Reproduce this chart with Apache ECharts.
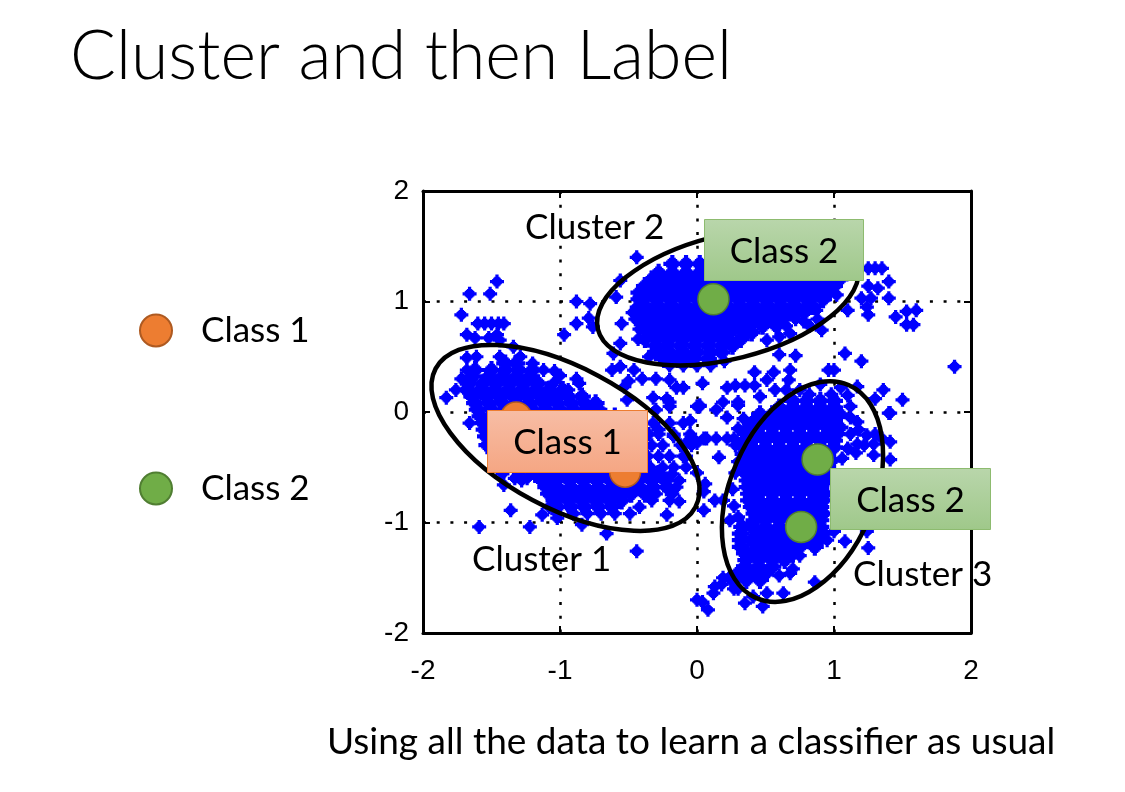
<!DOCTYPE html>
<html><head><meta charset="utf-8">
<style>html,body{margin:0;padding:0;background:#fff}#c{width:1125px;height:792px}</style>
<script src="https://cdn.jsdelivr.net/npm/echarts@6/dist/echarts.min.js"></script>
</head><body><div id="c"></div>
<script>
const ticks = [-2, -1, 0, 1, 2];
const class1Points = [[-1.32, -0.05], [-0.525, -0.54]];
const class2Points = [[0.12, 1.02], [0.88, -0.43], [0.76, -1.04]];
// each ellipse: centre, end of long axis, end of short axis (data units)
const clusterEllipses = [
  [-0.96, -0.235, -0.012, -0.862, -1.204, -0.795],
  [0.226, 1.04, 1.175, 1.334, 0.336, 0.497],
  [0.77, -0.72, 1.106, 0.244, 1.252, -0.978]
];
// rows: first number is y, the rest are x values read from the dense blobs
const denseCluster1 = [
 [.44,-1.40,-1.32],
 [.38,-1.62,-1.50,-1.40,-1.30,-1.20],
 [.32,-1.64,-1.52,-1.42,-1.32,-1.22],
 [.26,-1.66,-1.56,-1.46,-1.36,-1.26,-1.16],
 [.20,-1.68,-1.58,-1.48,-1.38,-1.28,-1.18,-1.08,-.98],
 [.14,-1.64,-1.54,-1.44,-1.34,-1.24,-1.14,-1.04,-.94,-.84],
 [.08,-1.62,-1.52,-1.42,-1.32,-1.22,-1.12,-1.02,-.92,-.82,-.74],
 [.02,-1.6,-1.5,-1.4,-1.3,-1.2,-1.1,-1,-.9,-.8,-.72],
 [-.04,-1.58,-1.5,-.68,-.6],
 [-.1,-1.56],
 [-.16,-1.55],
 [-.22,-1.54],
 [-.3,-1.53],
 [-.56,-1.18,-1.08,-.98,-.88,-.78,-.68,-.58,-.48,-.38,-.28],
 [-.62,-1.13,-1.03,-.93,-.83,-.73,-.63,-.53,-.43,-.33,-.23],
 [-.68,-1.1,-1.02,-.92,-.82,-.72,-.62,-.52,-.42,-.32,-.22],
 [-.74,-1.08,-.98,-.88,-.78,-.68,-.58,-.48,-.38],
 [-.80,-1.04,-.94,-.84,-.74,-.64,-.55],
 [-.86,-1.02,-.92,-.82,-.72,-.62]
];
const denseCluster2 = [
 [1.34,-.18,-.08,.02],
 [1.26,-.28,-.18,-.08,.02,.08],
 [1.2,-.33,-.25,-.15,-.05,.05,.15,.25,.35,.45,.55,.65,.75,.85,.95,1.04],
 [1.14,-.38,-.3,-.2,-.1,0,.1,.2,.3,.4,.5,.6,.7,.8,.9,1.0],
 [1.08,-.42,-.34,-.24,-.14,-.04,.06,.16,.26,.36,.46,.56,.66,.76,.86,.96],
 [1.02,-.42,-.3,-.2,-.1,0,.1,.2,.3,.4,.5,.6,.7,.8,.92],
 [.96,-.38,-.28,-.18,-.08,.02,.12,.22,.32,.42,.52,.62,.72,.84],
 [.90,-.42,-.33,-.23,-.13,-.03,.07,.17,.27,.37,.47,.57,.67,.78],
 [.84,-.40,-.28,-.18,-.08,.02,.12,.22,.32,.42,.52,.62],
 [.78,-.38,-.32,-.22,-.12,-.02,.08,.18,.28,.38,.48,.58],
 [.72,-.36,-.26,-.16,-.06,.04,.14,.24,.34,.4],
 [.66,-.38,-.3,-.2,-.1,0,.1,.2,.32],
 [.60,-.3,-.22,-.12,-.02,.08,.18,.26],
 [.54,-.3,-.2,-.1,0,.1,.18],
 [.48,-.24,-.14,-.04,.08]
];
const denseCluster3 = [
 [.10,.70,.80,.90,1.00],
 [.04,.60,.70,.80,.90,1.00],
 [-.02,.46,.55,.65,.75,.85,.95,1.04],
 [-.08,.42,.50,.60,.70,.80,.90,1.00],
 [-.14,.38,.45,.55,.65,.75,.85,.95,1.04],
 [-.20,.36,.45,.55,.65,.75,.85,.95,1.02],
 [-.26,.35,.40,.50,.60,.70,.80,.90,1.0],
 [-.32,.34,.40,.50,.60,.70,.80,.90,1.0],
 [-.38,.34,.45,.55,.65,.75,.85,.95],
 [-.44,.35,.40,.50,.60,.70,.80,.90,.98],
 [-.50,.35,.45,.55,.65,.75,.85,.95],
 [-.56,.36,.40,.50,.60,.70,.80,.90,.96],
 [-.62,.37,.45,.55,.65,.75,.85,.94],
 [-.68,.37,.40,.50,.60,.70,.80,.90],
 [-.74,.38,.45,.55,.65,.75,.85,.93],
 [-.80,.38,.45,.55,.65,.75,.85,.92],
 [-.86,.40,.50,.60,.70,.80,.90],
 [-.92,.42,.45,.55,.65,.75,.85,.92],
 [-.98,.42,.50,.60,.70,.80,.90],
 [-1.04,.33,.40,.50,.60,.70,.80,.90],
 [-1.10,.32,.45,.55,.65,.75,.85,.92],
 [-1.16,.32,.40,.50,.60,.70,.80,.89],
 [-1.22,.32,.45,.55,.65,.75,.86],
 [-1.28,.35,.40,.50,.60,.70],
 [-1.34,.36,.45,.55,.64],
 [-1.40,.35,.45,.55],
 [-1.46,.30,.40,.50],
 [-1.52,.26,.36,.46]
];
const sparsePoints = [
 [-1.46,1.18],[-1.51,1.07],[-1.66,1.07],[-1.72,.88],[-1.60,.80],[-1.55,.80],[-1.50,.80],[-1.45,.80],[-1.41,.80],
 [-1.68,.70],[-1.62,.67],[-1.46,.70],[-1.52,.67],[-1.44,.65],[-1.34,.59],[-1.68,.49],[-1.61,.5],[-1.44,.5],[-1.29,.5],
 [-1.72,.3],[-1.76,.2],[-1.68,.38],[-1.12,.38],[-1.04,.37],[-1.04,.27],[-.86,.26],[-.94,.2],[-1.2,.44],
 [-.88,1.0],[-.78,.98],[-.79,.85],[-.88,.80],[-.76,.77],[-.97,.70],[-.44,1.40],[-.59,1.04],[-.56,1.19],[-.55,.80],
 [-.56,.62],[-.61,.53],[-.56,.41],[-.46,.38],[-.88,.30],[-.51,.11],[-.32,.13],[-.2,.09],[-.53,.23],[-.4,.3],[-.3,.3],
 [-.2,.29],[-.1,.22],[-.15,.22],[-1.0,.33],[-.62,.38],[-.5,.28],[-.22,.12],[-1.83,.13],[-1.08,.1],
 [-.42,1.04],[-.44,.95],[-.47,.9],[-.45,.84],[-.42,.75],[-.43,.66],[-.35,.5],[-.2,.42],[-.1,.42],[0,.42],[.1,.42],[.2,.46],[.72,.84],[.88,.84],[.65,.78],[.82,.78],[1.02,1.06],
 [1.08,.53],[1.2,.46],[1.88,.41],[.96,.38],[1.0,.38],[.68,.38],[.6,.52],[.72,.51],[.56,.36],[.42,.36],[.67,.29],[.51,.29],
 [.04,.26],[.46,.14],[.28,.24],[.35,.24],[.22,.22],[.42,.24],[.57,.2],[.19,.09],[.3,.09],[.02,.05],[.14,.02],[.22,-.05],
 [1.5,.11],[1.4,-.01],[1.36,.2],[1.3,.12],[1.17,.23],[1.25,1.3],[1.3,1.3],[1.35,1.3],[1.4,1.18],[1.32,1.12],[1.25,1.14],
 [1.4,1.03],[1.2,1.03],[1.27,1.03],[1.24,.95],[1.1,.92],[1.25,.88],[1.45,.86],[1.53,.91],[1.6,.92],[1.53,.79],[1.58,.79],
 [.91,.74],[.78,.82],[.87,.92],[.68,.71],[.51,.65],[.6,.68],[.02,.06],[.3,.06],[-.03,-.24],[.05,-.24],[.07,-.24],[.14,-.24],
 [.22,-.24],[.27,-.24],[.16,-.41],[.06,-.65],[.13,-.8],[.19,-.8],[.05,-.89],[.24,-.98],[1.41,-.27],[1.24,-.21],[1.17,-.29],
 [1.29,-.29],[1.29,-.39],[1.41,-.43],[1.17,-.09],[1.08,-1.17],[1.25,-1.23],[.86,-1.54],[.63,-1.64],[1.24,-1.08],[1.41,-.01],
 [.68,-1.46],[.13,-1.58],[.12,-1.64],[.04,-1.72],[.08,-1.79],[.35,-1.73],[.48,-1.76],[.51,-1.64],[.41,-1.67],[.24,-1.49],[.27,-1.6],
 [.19,-1.5],[.3,-1.6],[.18,-1.56],[.6,-1.48],[.7,-1.42],[.75,-1.3],[.95,-1.16],[1.0,-1.08],
 [.75,.2],[.9,.25],[1.05,.22],[1.1,.15],[.65,.2],[.82,.16],[.98,.16],[1.12,.05],[1.12,-.05],[1.12,-.2],[1.18,-.16],[1.3,-.2],[1.35,-.24],[1.1,-.33],[1.16,-.37],[1.22,-.3],[1.06,-.42],
 [.28,-.55],[.26,-.7],[.27,-.85],[.3,-.95],[.3,-.45],[.28,-.3],[.3,-.15],[.34,-.06],
 [-1.59,-1.04],[-1.22,-1.04],[-1.36,-.89],[-1.66,-.10],[-.44,-1.26],[-.66,-1.1],[-.84,-1.02],[-1.02,-.96],[-1.13,-.93],
 [-.22,-.93],[-.13,-.81],[-.49,-.92],[-1.33,-.6],[-1.24,-.6],[-1.41,-.66],[0,-1.70],[0,-.28],[-.08,-.28],[-.17,-.22],
 [-.28,-.16],[-.2,.05],[-.3,.02],[0,.05],[-.05,-.08],[-.08,-.4],[0,-.55],[.05,-.72],
 [-.32,-.1],[-.2,-.1],[-.1,-.1],[-.35,-.2],[-.28,-.2],[-.17,-.2],[-.05,-.2],[-.33,-.3],[-.25,-.3],[-.12,-.3],[-.04,-.3],
 [-.36,-.4],[-.28,-.4],[-.2,-.4],[-.1,-.4],[-.34,-.5],[-.25,-.5],[-.17,-.5],[-.08,-.5],[-.18,-.56],[-.13,-.62],[-.15,-.68],
 [-.18,-.74],[-.3,-.74],[-.33,-.8],[-.2,-.8],[-.42,-.86],[-1.08,-.86],[-1.02,-.92],[-.9,-.92],[-.8,-.92],[-.7,-.92],[-.6,-.92],[-1.3,-.56],[-1.42,-.56],[-1.28,-.62]
];

function flatten(rows) {
  const out = [];
  rows.forEach(r => r.slice(1).forEach(x => out.push([x, r[0]])));
  return out;
}
const densePoints = flatten(denseCluster1).concat(flatten(denseCluster2), flatten(denseCluster3));
const SANS = 'Lato, "Open Sans", sans-serif';
const marker = 'path://M5 0H8V2H9V3H10V4H11V5H13V8H11V9H10V10H9V11H8V13H5V11H4V10H3V9H2V8H0V5H2V4H3V3H4V2H5Z';

const tickFmt = v => String(v);
const axisCommon = {
  type: 'value', min: -2, max: 2, interval: 1,
  axisLine: { show: true, onZero: false, lineStyle: { color: '#000', width: 3 } },
  axisTick: { show: true, inside: true, length: 7, lineStyle: { color: '#000', width: 2 } },
};
const labelBase = { show: true, color: '#000', fontFamily: '"Liberation Sans", sans-serif', fontSize: 28, formatter: tickFmt };
const grid = { left: 423, top: 191, width: 548, height: 442 };
const dots = { show: true, lineStyle: { color: '#000', width: 2.5, type: [3, 10.7] } };

function boxEl(x, y, w, h, top, bottom, border, text) {
  return [
    { type: 'rect', z: 20, shape: { x, y, width: w, height: h },
      style: { fill: new echarts.graphic.LinearGradient(0, 0, 0, 1, [{ offset: 0, color: top }, { offset: 1, color: bottom }]), stroke: border, lineWidth: 1 } },
    { type: 'text', z: 21, x: x + w / 2, y: y + h / 2 + 1.5, style: { text, fill: '#000', font: '35px ' + SANS, align: 'center', verticalAlign: 'middle' } }
  ];
}
function textEl(text, x, y, size) {
  return { type: 'text', z: 22, x, y, style: { text, fill: '#000', font: size + 'px ' + SANS, align: 'left', verticalAlign: 'middle' } };
}

const chart = echarts.init(document.getElementById('c'), null, { renderer: 'canvas' });
chart.setOption({
  animation: false,
  backgroundColor: '#fff',
  title: { text: 'Cluster and then Label', left: 65, top: 18,
    textStyle: { color: '#000', fontFamily: SANS, fontWeight: 300, fontSize: 68 } },
  legend: { show: true, orient: 'vertical', left: 134, top: 308, itemWidth: 32, itemHeight: 32, itemGap: 123,
    data: ['Class 1', 'Class 2'], selectedMode: false,
    textStyle: { color: '#000', fontFamily: SANS, fontSize: 35, padding: [0, 0, 0, 24] } },
  grid,
  xAxis: [
    Object.assign({}, axisCommon, { position: 'bottom', axisLabel: Object.assign({}, labelBase, { margin: 24 }), splitLine: dots }),
    Object.assign({}, axisCommon, { position: 'top', axisLabel: { show: false }, splitLine: { show: false } })
  ],
  yAxis: [
    Object.assign({}, axisCommon, { position: 'left', axisLabel: Object.assign({}, labelBase, { margin: 14 }), splitLine: dots }),
    Object.assign({}, axisCommon, { position: 'right', axisLabel: { show: false }, splitLine: { show: false } })
  ],
  series: [
    { type: 'scatter', name: 'points', data: sparsePoints, symbol: marker, symbolSize: 14, z: 2,
      itemStyle: { color: '#0000ff', opacity: 1 }, silent: true },
    { type: 'scatter', name: 'blobs', data: densePoints, symbol: marker, symbolSize: 18, z: 2,
      itemStyle: { color: '#0000ff', opacity: 1 }, silent: true },
    { type: 'custom', name: 'clusters', data: clusterEllipses, z: 5, silent: true, clip: false,
      encode: { x: 0, y: 1 },
      renderItem(params, api) {
        const c = api.coord([api.value(0), api.value(1)]);
        const p = api.coord([api.value(2), api.value(3)]);
        const q = api.coord([api.value(4), api.value(5)]);
        return { type: 'ellipse', originX: c[0], originY: c[1],
          rotation: -Math.atan2(p[1] - c[1], p[0] - c[0]),
          shape: { cx: c[0], cy: c[1], rx: Math.hypot(p[0] - c[0], p[1] - c[1]), ry: Math.hypot(q[0] - c[0], q[1] - c[1]) },
          style: { fill: 'none', stroke: '#000', lineWidth: 4.5 } };
      } },
    { type: 'scatter', name: 'Class 1', data: class1Points, symbol: 'circle', symbolSize: 31, z: 8,
      itemStyle: { color: '#ED7D31', borderColor: '#AE5A21', borderWidth: 1.5, opacity: 1 } },
    { type: 'scatter', name: 'Class 2', data: class2Points, symbol: 'circle', symbolSize: 31, z: 8,
      itemStyle: { color: '#70AD47', borderColor: '#507E32', borderWidth: 1.5, opacity: 1 } }
  ],
  graphic: { elements: [].concat(
    boxEl(487.5, 410.5, 160, 62, '#F7BDA5', '#F5A683', '#ED7D31', 'Class 1'),
    boxEl(704.5, 219.5, 159, 61, '#B9D6AB', '#9FC88A', '#8DBB6F', 'Class 2'),
    boxEl(830.5, 468.5, 160, 61, '#B9D6AB', '#9FC88A', '#8DBB6F', 'Class 2'),
    [ textEl('Cluster 2', 525, 228, 35), textEl('Cluster 1', 472, 560, 35), textEl('Cluster 3', 853, 575, 35),
      textEl('Using all the data to learn a classifier as usual', 327, 742, 37) ]
  ) }
});
</script></body></html>
